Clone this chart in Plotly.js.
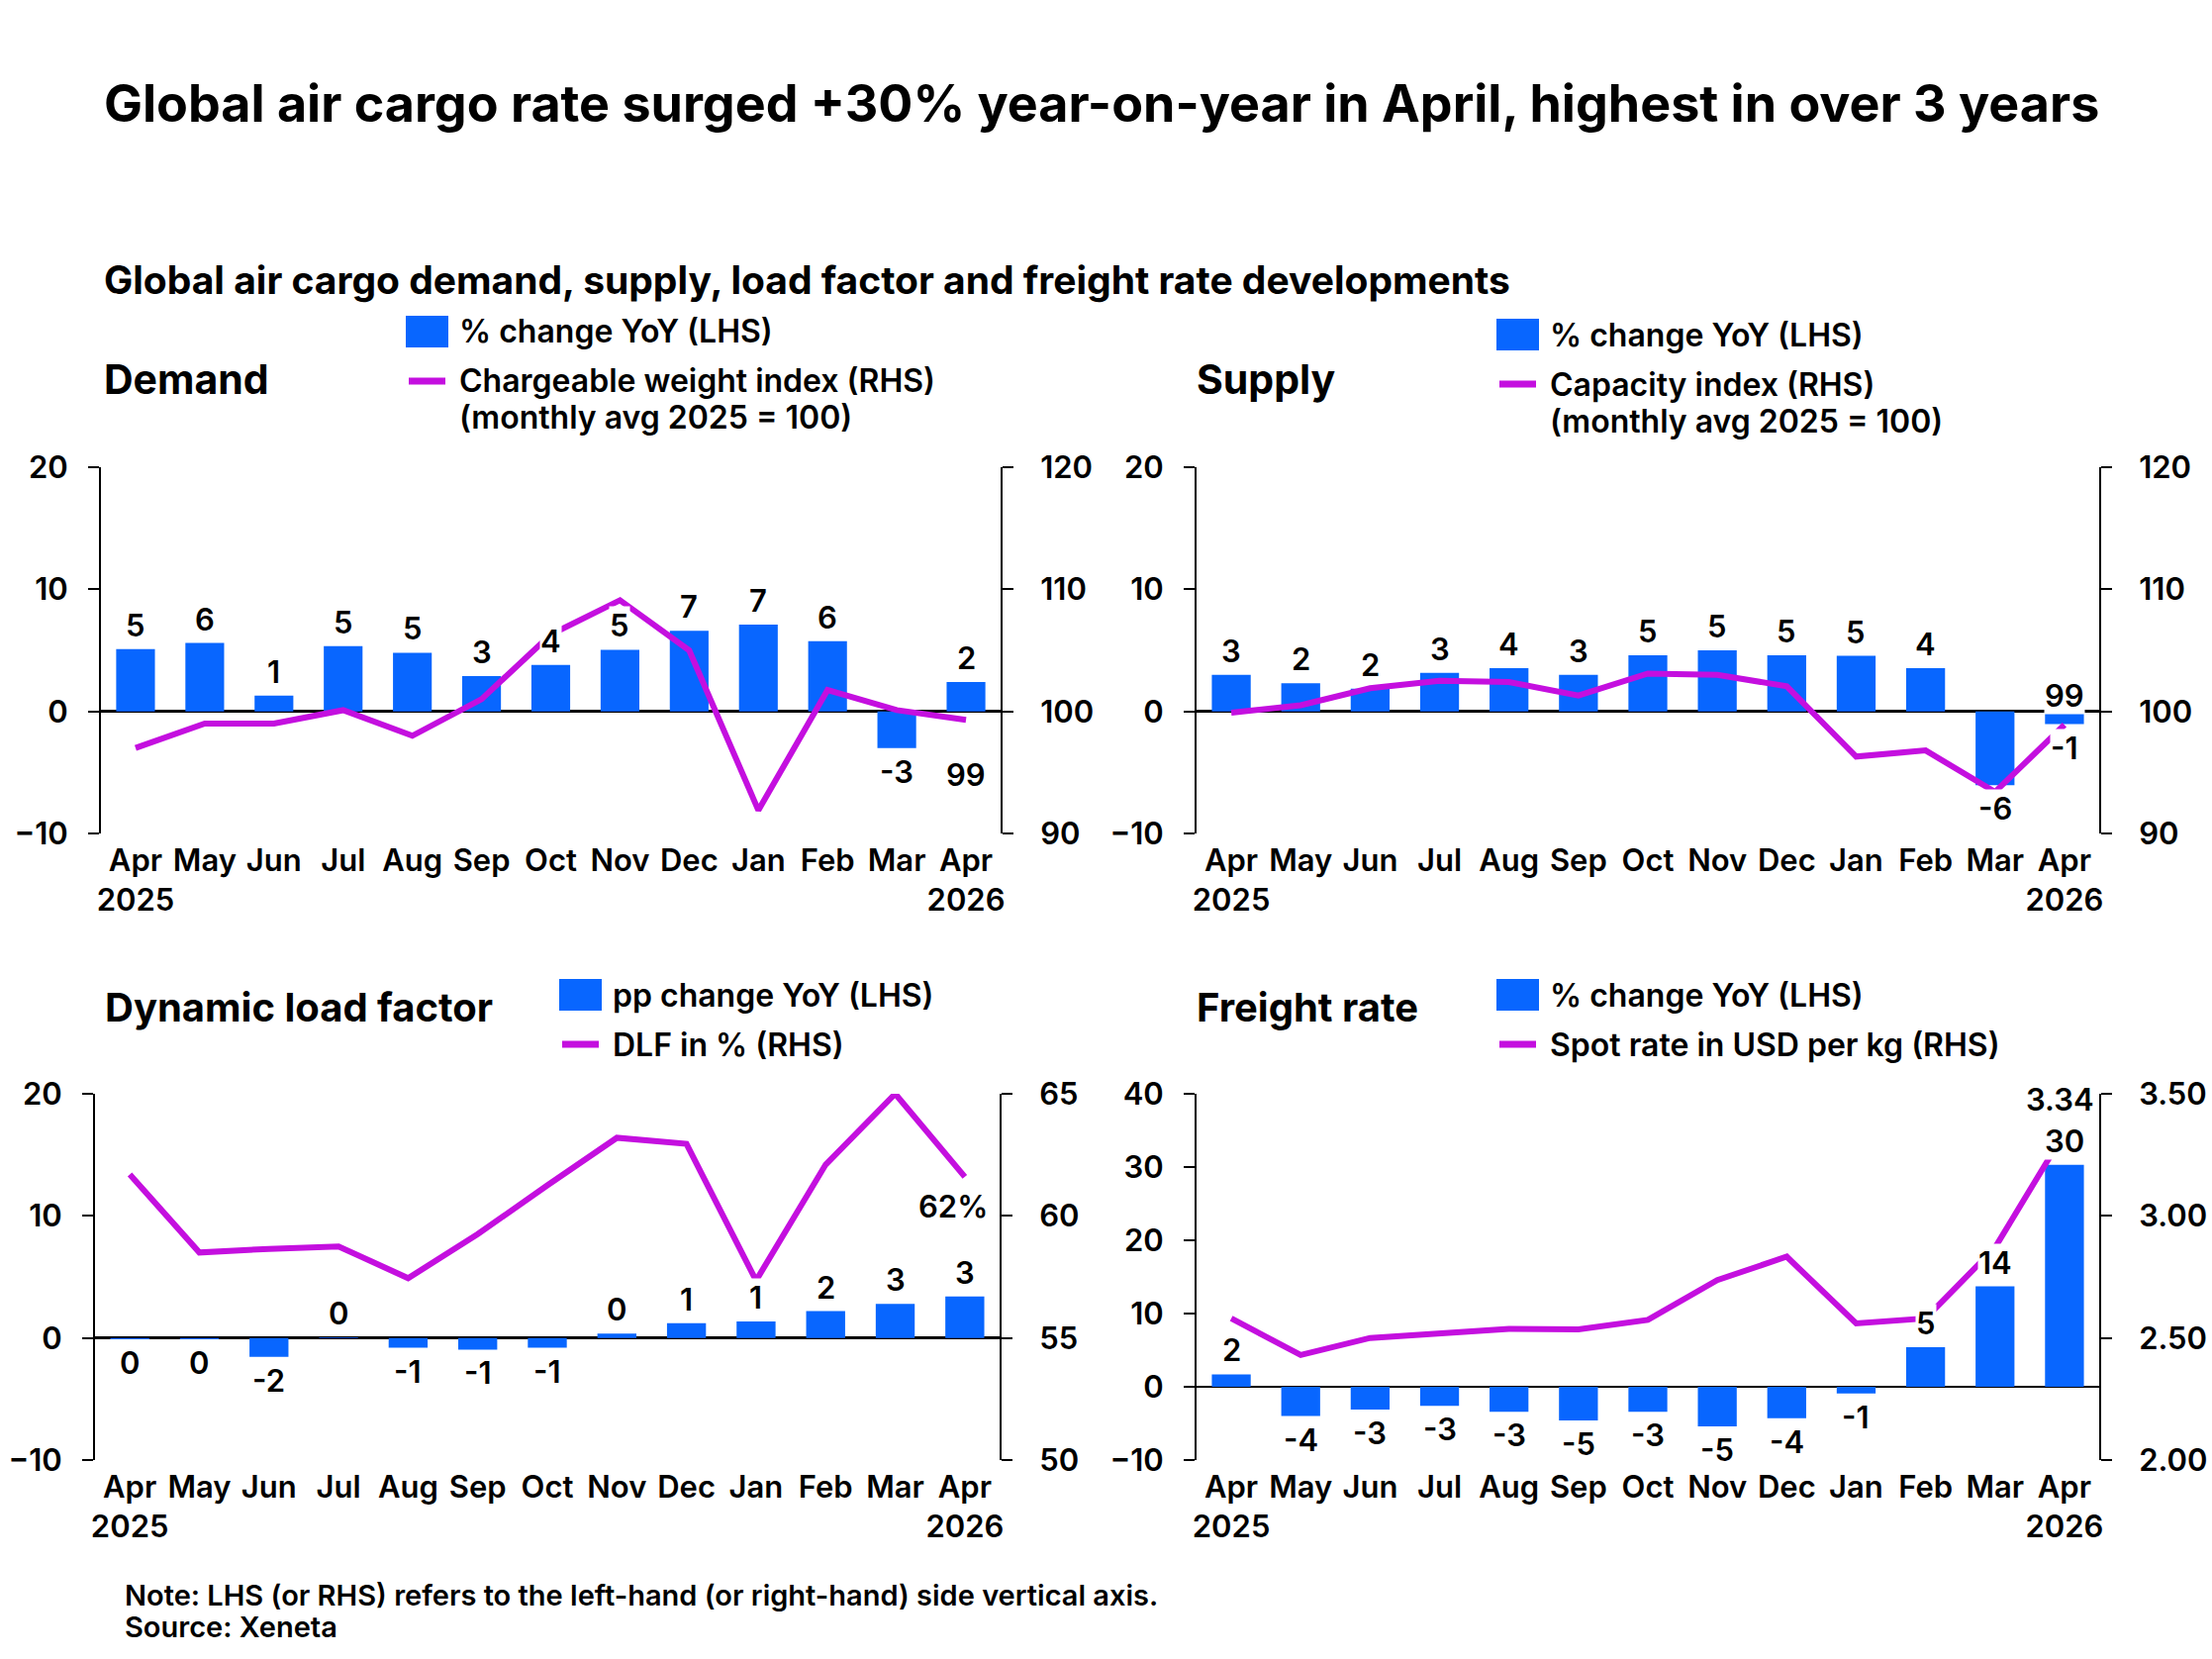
<!DOCTYPE html>
<html>
<head>
<meta charset="utf-8">
<script src="https://cdn.plot.ly/plotly-3.0.1.min.js"></script>
<style>
  html, body { margin: 0; padding: 0; background: #fff; }
  #chart { width: 2235px; height: 1676px; }
</style>
</head>
<body>
<div id="chart"></div>
<script>
var W = 2235, H = 1676;
var FONT = 'Inter, "Open Sans", sans-serif';
var BLUE = '#0866ff';
var MAGENTA = '#c40fdf';

var months = ['Apr 2025', 'May', 'Jun', 'Jul', 'Aug', 'Sep', 'Oct', 'Nov', 'Dec', 'Jan', 'Feb', 'Mar', 'Apr 2026'];
var monthTicks = ['Apr<br>2025', 'May', 'Jun', 'Jul', 'Aug', 'Sep', 'Oct', 'Nov', 'Dec', 'Jan', 'Feb', 'Mar', 'Apr<br>2026'];

// Demand
var demandYoY = [5.1, 5.6, 1.3, 5.35, 4.8, 2.9, 3.8, 5.05, 6.6, 7.1, 5.75, -3.0, 2.4];
var demandIndex = [97.0, 99.0, 99.0, 100.1, 98.0, 101.0, 106.3, 109.1, 105.0, 91.9, 101.75, 100.1, 99.3];
// Supply
var supplyYoY = [3.0, 2.3, 1.85, 3.15, 3.55, 3.0, 4.6, 5.0, 4.6, 4.55, 3.55, -6.05, -1.05];
var supplyIndex = [99.9, 100.5, 101.9, 102.5, 102.4, 101.3, 103.1, 103.0, 102.05, 96.3, 96.8, 93.4, 98.9];
// Dynamic load factor
var dlfChange = [-0.1, -0.1, -1.55, 0.05, -0.8, -0.95, -0.8, 0.35, 1.2, 1.35, 2.2, 2.8, 3.4];
var dlfPct = [61.7, 58.5, 58.65, 58.75, 57.45, 59.25, 61.25, 63.2, 62.95, 57.35, 62.1, 65.0, 61.6];
// Freight rate
var rateYoY = [1.7, -4.0, -3.1, -2.6, -3.4, -4.6, -3.4, -5.4, -4.3, -0.9, 5.4, 13.7, 30.3];
var spotRate = [2.58, 2.43, 2.50, 2.52, 2.537, 2.535, 2.574, 2.737, 2.833, 2.56, 2.58, 2.87, 3.34];

function px(x) { return x / W; }
function py(y) { return 1 - y / H; }

var data = [];
var annotations = [];
var shapes = [];
var layout = {
  width: W, height: H, autosize: false,
  margin: {l: 0, r: 0, t: 0, b: 0},
  paper_bgcolor: '#fff', plot_bgcolor: 'rgba(0,0,0,0)',
  showlegend: false,
  bargap: 0.44,
  font: {family: FONT, size: 30, color: '#000', weight: 600}
};

function addText(x, y, text, size, weight, anchor) {
  annotations.push({
    xref: 'paper', yref: 'paper', x: px(x), y: py(y),
    xanchor: anchor || 'left', yanchor: 'middle', align: 'left',
    text: text, showarrow: false,
    font: {family: FONT, size: size, weight: weight, color: '#000'}
  });
}

// legend drawn by hand: blue box + text, magenta stroke + one or two text lines
function addLegend(x, y, barText, lineText, lineText2) {
  shapes.push({type: 'rect', xref: 'paper', yref: 'paper',
    x0: px(x), x1: px(x + 43), y0: py(y - 16), y1: py(y + 16),
    fillcolor: BLUE, line: {width: 0}});
  addText(x + 52, y, barText, 32, 600);
  shapes.push({type: 'line', xref: 'paper', yref: 'paper',
    x0: px(x + 3), x1: px(x + 40), y0: py(y + 50), y1: py(y + 50),
    line: {color: MAGENTA, width: 7}});
  addText(x + 52, y + 50, lineText, 32, 600);
  if (lineText2) addText(x + 52, y + 87, lineText2, 32, 600);
}

function panel(n, box, bars, line, left, right) {
  var xa = 'xaxis' + (n === 1 ? '' : n);
  var xid = 'x' + (n === 1 ? '' : n);
  var yl = 2 * n - 1, yr = 2 * n;
  var ylid = 'y' + (yl === 1 ? '' : yl);
  var yrid = 'y' + yr;
  var ylName = 'yaxis' + (yl === 1 ? '' : yl);
  var yrName = 'yaxis' + yr;

  var xDom = [px(box[0]), px(box[1])];
  var yDom = [py(box[3]), py(box[2])];

  layout[xa] = {
    domain: xDom, anchor: ylid, type: 'category',
    range: [-0.5, 12.5], fixedrange: true,
    showline: false, ticks: '', showgrid: false, zeroline: false,
    tickvals: months, ticktext: monthTicks, tickangle: 0,
    ticklabelstandoff: 6,
    tickfont: {family: FONT, size: 31, weight: 600}
  };
  var axisCommon = {
    showline: true, linecolor: '#000', linewidth: 2,
    ticks: 'outside', ticklen: 11, tickwidth: 2, tickcolor: '#000',
    showgrid: false, fixedrange: true,
    tickfont: {family: FONT, size: 31, weight: 600}
  };
  layout[ylName] = Object.assign({}, axisCommon, {
    domain: yDom, anchor: xid, side: 'left',
    range: left.range, tickvals: left.ticks,
    ticklabelstandoff: 14,
    zeroline: true, zerolinecolor: '#000', zerolinewidth: 2.5
  });
  layout[yrName] = Object.assign({}, axisCommon, {
    domain: yDom, anchor: xid, side: 'right', overlaying: ylid,
    range: right.range, tickvals: right.ticks,
    ticklabelstandoff: 21,
    tickformat: right.fmt || '', zeroline: false
  });

  data.push({
    type: 'bar', x: months, y: bars, xaxis: xid, yaxis: ylid,
    marker: {color: BLUE, line: {width: 0}}, hoverinfo: 'skip'
  });
  data.push({
    type: 'scatter', mode: 'lines', x: months, y: line, xaxis: xid, yaxis: yrid,
    line: {color: MAGENTA, width: 6}, hoverinfo: 'skip'
  });

  for (var i = 0; i < bars.length; i++) {
    var v = Math.round(bars[i]);
    var pos = bars[i] >= 0;
    annotations.push({
      xref: xid, yref: ylid, x: months[i], y: bars[i],
      xanchor: 'center', yanchor: pos ? 'bottom' : 'top',
      yshift: pos ? 5 : -4,
      text: (v < 0 ? '-' : '') + Math.abs(v), showarrow: false,
      bgcolor: '#fff', borderpad: 0,
      font: {family: FONT, size: 31, weight: 600, color: '#000'}
    });
  }
}

// panel boxes: [left, right, top, bottom] in pixels
panel(1, [102, 1011, 472, 842], demandYoY, demandIndex,
  {range: [-10, 20], ticks: [-10, 0, 10, 20]},
  {range: [90, 120], ticks: [90, 100, 110, 120]});
panel(2, [1209, 2121, 472, 842], supplyYoY, supplyIndex,
  {range: [-10, 20], ticks: [-10, 0, 10, 20]},
  {range: [90, 120], ticks: [90, 100, 110, 120]});
panel(3, [96, 1010, 1105, 1475], dlfChange, dlfPct,
  {range: [-10, 20], ticks: [-10, 0, 10, 20]},
  {range: [50, 65], ticks: [50, 55, 60, 65]});
panel(4, [1209, 2121, 1105, 1475], rateYoY, spotRate,
  {range: [-10, 40], ticks: [-10, 0, 10, 20, 30, 40]},
  {range: [2.0, 3.5], ticks: [2.0, 2.5, 3.0, 3.5], fmt: '.2f'});

// end-of-line value labels
var last = months.length - 1;
var endFont = {family: FONT, size: 31, weight: 600};
annotations.push({xref: 'x', yref: 'y2', x: months[last], y: demandIndex[last],
  yanchor: 'top', yshift: -36, text: String(Math.round(demandIndex[last])), showarrow: false,
  bgcolor: '#fff', borderpad: 0, font: endFont});
annotations.push({xref: 'x2', yref: 'y4', x: months[last], y: supplyIndex[last],
  yanchor: 'bottom', yshift: 10, text: String(Math.round(supplyIndex[last])), showarrow: false,
  bgcolor: '#fff', borderpad: 0, font: endFont});
annotations.push({xref: 'x3', yref: 'y6', x: months[last], y: dlfPct[last],
  yanchor: 'top', yshift: -10, xshift: -12, text: Math.round(dlfPct[last]) + '%', showarrow: false,
  bgcolor: '#fff', borderpad: 0, font: endFont});
annotations.push({xref: 'x4', yref: 'y8', x: months[last], y: spotRate[last],
  yanchor: 'bottom', yshift: 14, xshift: -4, text: spotRate[last].toFixed(2), showarrow: false,
  bgcolor: '#fff', borderpad: 0, font: endFont});

// titles
addText(103, 105, 'Global air cargo rate surged +30% year-on-year in April, highest in over 3 years', 52, 700);
addText(103, 282, 'Global air cargo demand, supply, load factor and freight rate developments', 39, 700);
addText(103, 383, 'Demand', 41, 700);
addText(1207, 383, 'Supply', 41, 700);
addText(104, 1017, 'Dynamic load factor', 40, 700);
addText(1207, 1017, 'Freight rate', 40, 700);

addLegend(410, 335, '% change YoY (LHS)', 'Chargeable weight index (RHS)', '(monthly avg 2025 = 100)');
addLegend(1512, 338, '% change YoY (LHS)', 'Capacity index (RHS)', '(monthly avg 2025 = 100)');
addLegend(565, 1005, 'pp change YoY (LHS)', 'DLF in % (RHS)');
addLegend(1512, 1005, '% change YoY (LHS)', 'Spot rate in USD per kg (RHS)');

addText(124, 1611, 'Note: LHS (or RHS) refers to the left-hand (or right-hand) side vertical axis.', 29, 600);
addText(124, 1643, 'Source: Xeneta', 29, 600);

layout.annotations = annotations;
layout.shapes = shapes;

Plotly.newPlot('chart', data, layout, {staticPlot: true, displayModeBar: false});
</script>
</body>
</html>
